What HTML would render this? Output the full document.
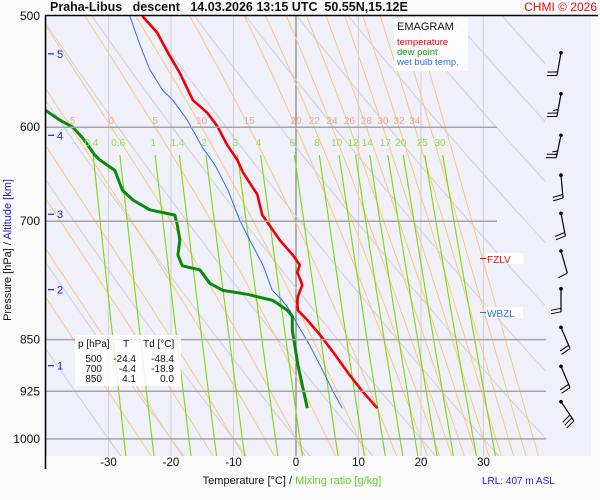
<!DOCTYPE html>
<html><head><meta charset="utf-8">
<style>
body{margin:0;background:#fafafa;}
svg{display:block;font-family:"Liberation Sans",Arial,sans-serif;}
</style></head>
<body>
<svg id="chart" width="600" height="500" viewBox="0 0 600 500">
<rect x="0" y="0" width="600" height="500" fill="#fafafa"/>
<rect x="45" y="16" width="546" height="440" fill="#f0f0fb"/>
<defs><clipPath id="clip"><rect x="45" y="16" width="500" height="440"/></clipPath></defs>
<g id="grid" clip-path="url(#clip)"></g>
<g id="series" clip-path="url(#clip)"></g>
<g id="labels"></g>
<line x1="45" y1="15.5" x2="598" y2="15.5" stroke="#000" stroke-width="1.5"/>
<line x1="45.5" y1="15" x2="45.5" y2="469" stroke="#000" stroke-width="1.5"/>
<text x="50" y="11" font-size="12.5" font-weight="bold" fill="#111" xml:space="preserve">Praha-Libus   descent   14.03.2026 13:15 UTC  50.55N,15.12E</text>
<text x="597" y="11" font-size="12" fill="#e01010" text-anchor="end">CHMI © 2026</text>
<g>
<rect x="394" y="18" width="74" height="53" fill="#fff" opacity="0.85"/>
<text x="397" y="30" font-size="11" fill="#111">EMAGRAM</text>
<text x="397" y="45" font-size="9.5" fill="#f00000">temperature</text>
<text x="397" y="55" font-size="9.5" fill="#10a010">dew point</text>
<text x="397" y="65" font-size="9.5" fill="#3070f0">wet bulb temp.</text>
</g>
<g font-size="10" fill="#111">
<rect x="75" y="335" width="106" height="51" fill="#fff" opacity="0.85"/>
<text x="78" y="347">p [hPa]</text><text x="126" y="347" text-anchor="middle">T</text><text x="143" y="347">Td [°C]</text>
<text x="102" y="362" text-anchor="end">500</text><text x="136" y="362" text-anchor="end">-24.4</text><text x="174" y="362" text-anchor="end">-48.4</text>
<text x="102" y="372" text-anchor="end">700</text><text x="136" y="372" text-anchor="end">-4.4</text><text x="174" y="372" text-anchor="end">-18.9</text>
<text x="102" y="382" text-anchor="end">850</text><text x="136" y="382" text-anchor="end">4.1</text><text x="174" y="382" text-anchor="end">0.0</text>
</g>
<g>
<rect x="486" y="253" width="37" height="11" fill="#fff"/>
<line x1="480" y1="258.5" x2="486" y2="258.5" stroke="#f00"/>
<text x="487" y="263" font-size="10" fill="#f00">FZLV</text>
</g>
<g>
<rect x="486" y="307" width="37" height="11" fill="#fff"/>
<line x1="480" y1="312.5" x2="486" y2="312.5" stroke="#3070f0"/>
<text x="487" y="317" font-size="10" fill="#3070f0">WBZL</text>
</g>
<text x="482" y="484" font-size="10" fill="#2020e0">LRL: 407 m ASL</text>
<text x="292" y="484" font-size="11" text-anchor="middle"><tspan fill="#111">Temperature [°C]  /  </tspan><tspan fill="#66cc22">Mixing ratio [g/kg]</tspan></text>
<text transform="translate(11,250) rotate(-90)" font-size="11" text-anchor="middle"><tspan fill="#111">Pressure [hPa]  /  </tspan><tspan fill="#2020e0">Altitude [km]</tspan></text>
<g id="winds"></g>
</svg>
<script>
// ---- data ----
const pressureTicks = [500, 600, 700, 850, 925, 1000];
const tempTicks = [-30, -20, -10, 0, 10, 20, 30];
const altitudeKm = [1, 2, 3, 4, 5];
const altitudeP = [887, 783, 692, 608, 532];
const mixingRatios = [0.4, 0.6, 1, 1.4, 2, 3, 4, 6, 8, 10, 12, 14, 17, 20, 25, 30];
const thetaWLabels = [-5, 0, 5, 10, 15, 20, 22, 24, 26, 28, 30, 32, 34];
const thetaWLines = [-25, -20, -15, -10, -5, 0, 5, 10, 15, 20, 22, 24, 26, 28, 30, 32, 34, 36, 38];
const tempP = [500,514,531,549,574,586,599,618,633,646,670,693,701,722,740,752,761,777,792,800,810,823,843,867,901,926,951];
const tempT = [-24.6,-22.2,-20.5,-18.6,-16.5,-14.2,-12.6,-11.0,-9.4,-8.5,-6.2,-5.4,-4.6,-2.6,-0.5,0.6,0.2,1.0,0.3,0.2,0.3,1.8,3.8,5.9,8.6,10.7,13.0];
const dewP = [583,593,600,611,628,633,644,665,676,687,693,704,722,740,753,758,775,784,789,797,810,818,837,858,886,916,951];
const dewT = [-40.2,-37.8,-35.7,-34.1,-32.2,-31.4,-29.0,-27.8,-26.1,-23.4,-19.4,-19.0,-18.6,-18.9,-18.2,-15.4,-13.8,-11.7,-7.8,-3.7,-1.4,-0.6,-0.6,-0.2,0.3,1.0,1.8];
const wbP = [500,524,546,565,574,593,621,638,665,699,722,752,784,797,810,830,858,893,923,951];
const wbT = [-26.6,-25.0,-23.4,-21.3,-19.7,-17.4,-14.9,-13.0,-10.9,-9.0,-7.4,-5.3,-3.8,-2.2,-1.0,0.3,2.2,4.2,5.8,7.4];
const windP = [531,568,608,649,691,735,782,833,888,941];
const windDir = [190,190,192,175,169,164,180,157,157,146];
const windKt = [20,25,25,20,20,10,20,20,20,30];

// ---- scales ----
const NS = 'http://www.w3.org/2000/svg';
function X(t){ return 296 + 6.25*t; }
function Y(p){ return 16 + 610*Math.log(p/500); }
function mk(tag, attrs, parent){ const e=document.createElementNS(NS,tag); for(const k in attrs) e.setAttribute(k,attrs[k]); parent.appendChild(e); return e; }
const grid=document.getElementById('grid'), series=document.getElementById('series'), labels=document.getElementById('labels'), winds=document.getElementById('winds');
function poly(pts){ return pts.map(q=>X(q[1]).toFixed(1)+','+Y(q[0]).toFixed(1)).join(' '); }

// isotherms
for(let t=-40;t<=40;t+=10){
  const l=mk('line',{x1:X(t),y1:16,x2:X(t),y2:456,stroke:t===0?'#8a8a8a':'#d4d4d8','stroke-width':t===0?1.3:1.2},grid);
  
  
}
// dry adiabats
for(let th=243.15; th<=393.15; th+=10){
  const pts=[]; for(let p=480;p<=1040;p+=10){ pts.push([p, th*Math.pow(p/1000,0.2857)-273.15]); }
  const l=mk('polyline',{points:poly(pts),fill:'none',stroke:'#d0d0d4','stroke-width':1},grid);
  
  
}
// moist adiabats
function es(T){ return 6.112*Math.exp(17.67*T/(T+243.5)); }
function moist(tw){
  const Rd=287.04, cp=1005.7, L=2.501e6, eps=0.622;
  function dTdp(p,T){ const Tk=T+273.15; const rs=eps*es(T)/(p-es(T));
    return (Rd*Tk + L*rs)/(p*(cp + L*L*rs*eps/(Rd*Tk*Tk))); }
  const up=[], dn=[]; let T=tw;
  for(let p=1000;p>=480;p-=5){ up.push([p,T]); T-=dTdp(p,T)*5; }
  T=tw; for(let p=1000;p<=1045;p+=5){ dn.push([p,T]); T+=dTdp(p,T)*5; }
  return up.reverse().concat(dn.slice(1));
}
const moistCache={};
thetaWLines.forEach(tw=>{
  const pts=moist(tw); moistCache[tw]=pts;
  const l=mk('polyline',{points:poly(pts),fill:'none',stroke:'#ffc878','stroke-width':1},grid);
  
  
});
// mixing ratio lines
function tdFromE(e){ const a=Math.log(e/6.112); return 243.5*a/(17.67-a); }
mixingRatios.forEach(w=>{
  const pts=[]; for(let p=628;p<=1040;p+=8){ pts.push([p, tdFromE(w*p/(622+w))]); }
  const l=mk('polyline',{points:poly(pts),fill:'none',stroke:'#88d818','stroke-width':1.2},grid);
  
  
  const tx=mk('text',{x:X(tdFromE(w*612/(622+w))),y:146,'font-size':10,fill:'#99dd44','text-anchor':'middle'},labels);
  tx.textContent=String(w);
  
  
});
// theta-w labels
thetaWLabels.forEach(tw=>{
  const pts=moistCache[tw]; let T=pts[0][1];
  for(const q of pts){ if(q[0]>=600){ T=q[1]; break; } }
  const tx=mk('text',{x:X(T),y:124,'font-size':10,fill:'#f4a890','text-anchor':'middle'},labels);
  tx.textContent=String(tw);
  
  
});
// pressure lines & labels
pressureTicks.forEach(p=>{
  if(p>500){
    const l=mk('line',{x1:45,y1:Y(p),x2:(p<=700?497:546),y2:Y(p),stroke:'#a4a4a4','stroke-width':1.5},labels);
    
    
  }
  const tx=mk('text',{x:40,y:Y(p)+4,'font-size':12,fill:'#111','text-anchor':'end'},labels);
  tx.textContent=String(p);
  
  
});
// temperature tick labels
tempTicks.forEach(t=>{
  const tx=mk('text',{x:X(t),y:466,'font-size':11.5,fill:'#111','text-anchor':'middle'},labels);
  tx.textContent=String(t);
  
  
});
// altitude ticks
altitudeKm.forEach((km,i)=>{
  const y=Y(altitudeP[i]);
  const l=mk('line',{x1:48,y1:y,x2:54,y2:y,stroke:'#2020e0','stroke-width':1.2},labels);
  
  
  const tx=mk('text',{x:57,y:y+4,'font-size':11,fill:'#2020e0'},labels);
  tx.textContent=String(km);
  
  
});
// soundings
function curve(P,T,color,w,name){
  const l=mk('polyline',{points:poly(P.map((p,i)=>[p,T[i]])),fill:'none',stroke:color,'stroke-width':w,'stroke-linejoin':'round'},series);
  
  
}
curve(wbP,wbT,'#2a6ef0',1,'wet-bulb-line');
curve(dewP,dewT,'#0a8a0a',3,'dew-point-line');
curve(tempP,tempT,'#f00000',2.6,'temperature-line');
// wind barbs
windP.forEach((p,i)=>{
  const x0=561, y0=Y(p);
  const a=windDir[i]*Math.PI/180;
  const L=23, ex=x0+Math.sin(a)*L, ey=y0-Math.cos(a)*L;
  const g=mk('g',{},winds);
  
  
  mk('circle',{cx:x0,cy:y0,r:1.8,fill:'#000'},g);
  mk('line',{x1:x0,y1:y0,x2:ex,y2:ey,stroke:'#000','stroke-width':1.2},g);
  const vx=(ex-x0)/L, vy=(ey-y0)/L; const px=-vy, py=vx;
  let kt=windKt[i], k=0;
  while(kt>=5){
    const bx=ex-vx*k*3.5, by=ey-vy*k*3.5;
    const len=kt>=10?10:5;
    mk('line',{x1:bx,y1:by,x2:bx+px*len+vx*2,y2:by+py*len+vy*2,stroke:'#000','stroke-width':1},g);
    kt-=len; k++;
  }
});
</script>
</body></html>
